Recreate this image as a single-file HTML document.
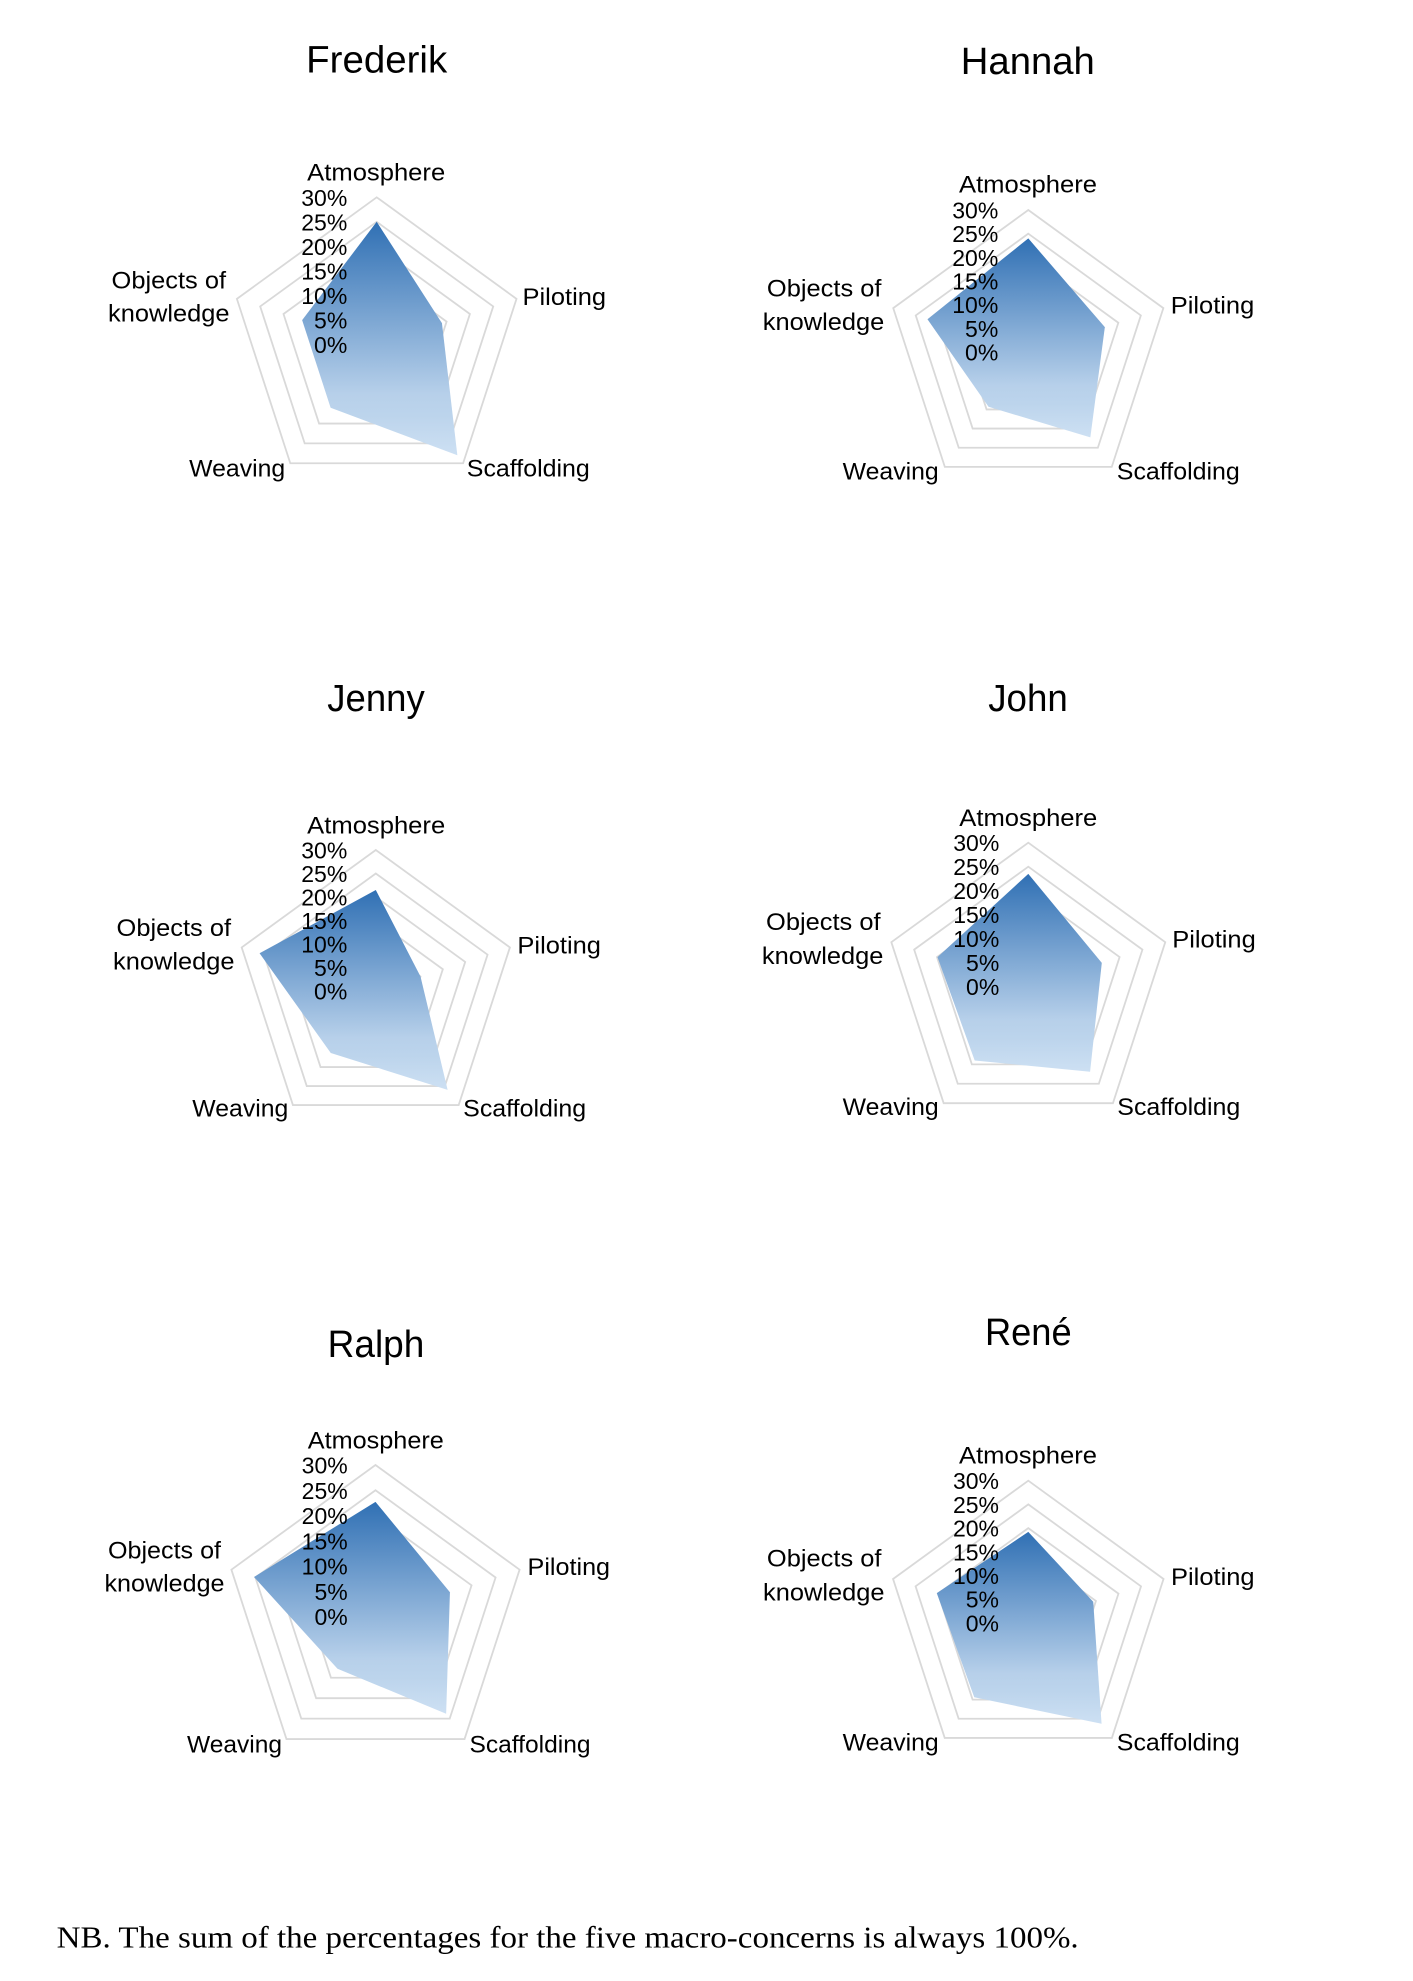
<!DOCTYPE html>
<html>
<head>
<meta charset="utf-8">
<style>
  html, body { margin: 0; padding: 0; background: #ffffff; }
  body { width: 1413px; height: 1981px; overflow: hidden; }
  svg { display: block; }
  .t { font-family: "Liberation Sans", Arial, sans-serif; fill: #000; }
  .title { font-size: 38px; text-anchor: middle; }
  .cat { font-size: 24px; text-anchor: middle; }
  .tick { font-size: 23px; text-anchor: end; }
  .nb { font-family: "Liberation Serif", "Times New Roman", serif; font-size: 31px; fill: #000; }
</style>
</head>
<body>
<svg width="1413" height="1981" viewBox="0 0 1413 1981" xmlns="http://www.w3.org/2000/svg">
  <defs>
    <linearGradient id="gf" x1="0" y1="0" x2="0" y2="1">
      <stop offset="0" stop-color="#3070b4"/>
      <stop offset="0.74" stop-color="#b7d0ea"/>
      <stop offset="0.83" stop-color="#bcd4ec"/>
      <stop offset="1" stop-color="#cde0f3"/>
    </linearGradient>
    <g id="rings" fill="none" stroke="#d9d9d9">
      <polygon points="0,-0.1667 0.1585,-0.0515 0.0980,0.1348 -0.0980,0.1348 -0.1585,-0.0515"/>
      <polygon points="0,-0.3333 0.3170,-0.1030 0.1959,0.2697 -0.1959,0.2697 -0.3170,-0.1030"/>
      <polygon points="0,-0.5 0.4755,-0.1545 0.2939,0.4045 -0.2939,0.4045 -0.4755,-0.1545"/>
      <polygon points="0,-0.6667 0.6340,-0.2060 0.3919,0.5393 -0.3919,0.5393 -0.6340,-0.2060"/>
      <polygon points="0,-0.8333 0.7926,-0.2575 0.4898,0.6742 -0.4898,0.6742 -0.7926,-0.2575"/>
      <polygon points="0,-1 0.9511,-0.3090 0.5878,0.8090 -0.5878,0.8090 -0.9511,-0.3090"/>
    </g>
  </defs>

  <!-- ================= Frederik ================= -->
  <text class="t title" x="376.7" y="72.7" textLength="141" lengthAdjust="spacingAndGlyphs">Frederik</text>
  <g transform="translate(376.7,344.3) scale(147)">
    <use href="#rings" stroke-width="0.01224"/>
    <polygon fill="url(#gf)" points="0,-0.8333 0.4438,-0.1442 0.5486,0.7551 -0.3135,0.4315 -0.5072,-0.1648"/>
  </g>
  <g transform="translate(347.3,344.3)">
    <text class="t tick" y="-138.5">30%</text>
    <text class="t tick" y="-114">25%</text>
    <text class="t tick" y="-89.5">20%</text>
    <text class="t tick" y="-65">15%</text>
    <text class="t tick" y="-40.5">10%</text>
    <text class="t tick" y="-16">5%</text>
    <text class="t tick" y="8.5">0%</text>
  </g>
  <text class="t cat" x="376.2" y="180.7" textLength="138" lengthAdjust="spacingAndGlyphs">Atmosphere</text>
  <text class="t cat" x="564.3" y="305" textLength="83.5" lengthAdjust="spacingAndGlyphs">Piloting</text>
  <text class="t cat" x="528.3" y="476.7" textLength="123" lengthAdjust="spacingAndGlyphs">Scaffolding</text>
  <text class="t cat" x="237.2" y="476.7" textLength="96" lengthAdjust="spacingAndGlyphs">Weaving</text>
  <text class="t cat" x="168.8" y="288.3" textLength="114.5" lengthAdjust="spacingAndGlyphs">Objects of</text>
  <text class="t cat" x="168.8" y="321.7" textLength="121.5" lengthAdjust="spacingAndGlyphs">knowledge</text>

  <!-- ================= Hannah ================= -->
  <text class="t title" x="1027.8" y="74" textLength="134" lengthAdjust="spacingAndGlyphs">Hannah</text>
  <g transform="translate(1028.3,352) scale(142)">
    <use href="#rings" stroke-width="0.01268"/>
    <polygon fill="url(#gf)" points="0,-0.8 0.5390,-0.1751 0.4369,0.6013 -0.2802,0.3857 -0.7101,-0.2307"/>
  </g>
  <g transform="translate(998.3,352)">
    <text class="t tick" y="-133.5">30%</text>
    <text class="t tick" y="-109.83">25%</text>
    <text class="t tick" y="-86.17">20%</text>
    <text class="t tick" y="-62.5">15%</text>
    <text class="t tick" y="-38.83">10%</text>
    <text class="t tick" y="-15.17">5%</text>
    <text class="t tick" y="8.5">0%</text>
  </g>
  <text class="t cat" x="1028" y="192.3" textLength="138" lengthAdjust="spacingAndGlyphs">Atmosphere</text>
  <text class="t cat" x="1212.5" y="313.3" textLength="83.5" lengthAdjust="spacingAndGlyphs">Piloting</text>
  <text class="t cat" x="1178.3" y="479.3" textLength="123" lengthAdjust="spacingAndGlyphs">Scaffolding</text>
  <text class="t cat" x="890.7" y="479.3" textLength="96" lengthAdjust="spacingAndGlyphs">Weaving</text>
  <text class="t cat" x="824.2" y="296.7" textLength="114.5" lengthAdjust="spacingAndGlyphs">Objects of</text>
  <text class="t cat" x="823.5" y="330" textLength="121.5" lengthAdjust="spacingAndGlyphs">knowledge</text>

  <!-- ================= Jenny ================= -->
  <text class="t title" x="376" y="711" textLength="97.4" lengthAdjust="spacingAndGlyphs">Jenny</text>
  <g transform="translate(375.8,991) scale(141)">
    <use href="#rings" stroke-width="0.01277"/>
    <polygon fill="url(#gf)" points="0,-0.7167 0.3170,-0.1030 0.5094,0.7012 -0.3193,0.4395 -0.8243,-0.2678"/>
  </g>
  <g transform="translate(347.3,991)">
    <text class="t tick" y="-132.5">30%</text>
    <text class="t tick" y="-109">25%</text>
    <text class="t tick" y="-85.5">20%</text>
    <text class="t tick" y="-62">15%</text>
    <text class="t tick" y="-38.5">10%</text>
    <text class="t tick" y="-15">5%</text>
    <text class="t tick" y="8.5">0%</text>
  </g>
  <text class="t cat" x="376.2" y="833.3" textLength="138" lengthAdjust="spacingAndGlyphs">Atmosphere</text>
  <text class="t cat" x="559.2" y="953.3" textLength="83.5" lengthAdjust="spacingAndGlyphs">Piloting</text>
  <text class="t cat" x="524.7" y="1116.7" textLength="123" lengthAdjust="spacingAndGlyphs">Scaffolding</text>
  <text class="t cat" x="240.3" y="1116.7" textLength="96" lengthAdjust="spacingAndGlyphs">Weaving</text>
  <text class="t cat" x="173.8" y="936" textLength="114.5" lengthAdjust="spacingAndGlyphs">Objects of</text>
  <text class="t cat" x="173.8" y="969.3" textLength="121.5" lengthAdjust="spacingAndGlyphs">knowledge</text>

  <!-- ================= John ================= -->
  <text class="t title" x="1028" y="711" textLength="79.6" lengthAdjust="spacingAndGlyphs">John</text>
  <g transform="translate(1028.3,986.7) scale(144)">
    <use href="#rings" stroke-width="0.0125"/>
    <polygon fill="url(#gf)" points="0,-0.7833 0.5104,-0.1658 0.4291,0.5906 -0.3723,0.5124 -0.6308,-0.2050"/>
  </g>
  <g transform="translate(999.3,986.7)">
    <text class="t tick" y="-135.5">30%</text>
    <text class="t tick" y="-111.5">25%</text>
    <text class="t tick" y="-87.5">20%</text>
    <text class="t tick" y="-63.5">15%</text>
    <text class="t tick" y="-39.5">10%</text>
    <text class="t tick" y="-15.5">5%</text>
    <text class="t tick" y="8.5">0%</text>
  </g>
  <text class="t cat" x="1028.3" y="826" textLength="138" lengthAdjust="spacingAndGlyphs">Atmosphere</text>
  <text class="t cat" x="1214" y="947.7" textLength="83.5" lengthAdjust="spacingAndGlyphs">Piloting</text>
  <text class="t cat" x="1178.8" y="1115" textLength="123" lengthAdjust="spacingAndGlyphs">Scaffolding</text>
  <text class="t cat" x="890.7" y="1115" textLength="96" lengthAdjust="spacingAndGlyphs">Weaving</text>
  <text class="t cat" x="823.3" y="930" textLength="114.5" lengthAdjust="spacingAndGlyphs">Objects of</text>
  <text class="t cat" x="822.7" y="964" textLength="121.5" lengthAdjust="spacingAndGlyphs">knowledge</text>

  <!-- ================= Ralph ================= -->
  <text class="t title" x="376" y="1357" textLength="96.7" lengthAdjust="spacingAndGlyphs">Ralph</text>
  <g transform="translate(375.5,1616.5) scale(151.5)">
    <use href="#rings" stroke-width="0.01188"/>
    <polygon fill="url(#gf)" points="0,-0.7567 0.4914,-0.1597 0.4663,0.6418 -0.2508,0.3452 -0.8020,-0.2606"/>
  </g>
  <g transform="translate(347.7,1616.5)">
    <text class="t tick" y="-143">30%</text>
    <text class="t tick" y="-117.75">25%</text>
    <text class="t tick" y="-92.5">20%</text>
    <text class="t tick" y="-67.25">15%</text>
    <text class="t tick" y="-42">10%</text>
    <text class="t tick" y="-16.75">5%</text>
    <text class="t tick" y="8.5">0%</text>
  </g>
  <text class="t cat" x="375.8" y="1448.3" textLength="136" lengthAdjust="spacingAndGlyphs">Atmosphere</text>
  <text class="t cat" x="568.8" y="1575" textLength="82.5" lengthAdjust="spacingAndGlyphs">Piloting</text>
  <text class="t cat" x="530" y="1752.7" textLength="121" lengthAdjust="spacingAndGlyphs">Scaffolding</text>
  <text class="t cat" x="234.5" y="1752.7" textLength="95" lengthAdjust="spacingAndGlyphs">Weaving</text>
  <text class="t cat" x="164.5" y="1558.3" textLength="113" lengthAdjust="spacingAndGlyphs">Objects of</text>
  <text class="t cat" x="164.5" y="1591.7" textLength="120" lengthAdjust="spacingAndGlyphs">knowledge</text>

  <!-- ================= René ================= -->
  <text class="t title" x="1028.3" y="1345" textLength="86.7" lengthAdjust="spacingAndGlyphs">René</text>
  <g transform="translate(1028.3,1622.9) scale(142.2)">
    <use href="#rings" stroke-width="0.01266"/>
    <polygon fill="url(#gf)" points="0,-0.64 0.4565,-0.1483 0.5153,0.7093 -0.3801,0.5232 -0.6436,-0.2091"/>
  </g>
  <g transform="translate(999,1622.9)">
    <text class="t tick" y="-133.7">30%</text>
    <text class="t tick" y="-110">25%</text>
    <text class="t tick" y="-86.3">20%</text>
    <text class="t tick" y="-62.6">15%</text>
    <text class="t tick" y="-38.9">10%</text>
    <text class="t tick" y="-15.2">5%</text>
    <text class="t tick" y="8.5">0%</text>
  </g>
  <text class="t cat" x="1028" y="1463.3" textLength="138" lengthAdjust="spacingAndGlyphs">Atmosphere</text>
  <text class="t cat" x="1212.8" y="1585" textLength="83.5" lengthAdjust="spacingAndGlyphs">Piloting</text>
  <text class="t cat" x="1178.3" y="1750.7" textLength="123" lengthAdjust="spacingAndGlyphs">Scaffolding</text>
  <text class="t cat" x="890.7" y="1750.7" textLength="96" lengthAdjust="spacingAndGlyphs">Weaving</text>
  <text class="t cat" x="824.2" y="1566.7" textLength="114.5" lengthAdjust="spacingAndGlyphs">Objects of</text>
  <text class="t cat" x="823.8" y="1600.7" textLength="121.5" lengthAdjust="spacingAndGlyphs">knowledge</text>

  <!-- ================= Note ================= -->
  <text class="nb" x="56.7" y="1947.3" textLength="1022" lengthAdjust="spacingAndGlyphs">NB. The sum of the percentages for the five macro-concerns is always 100%.</text>
</svg>
</body>
</html>
